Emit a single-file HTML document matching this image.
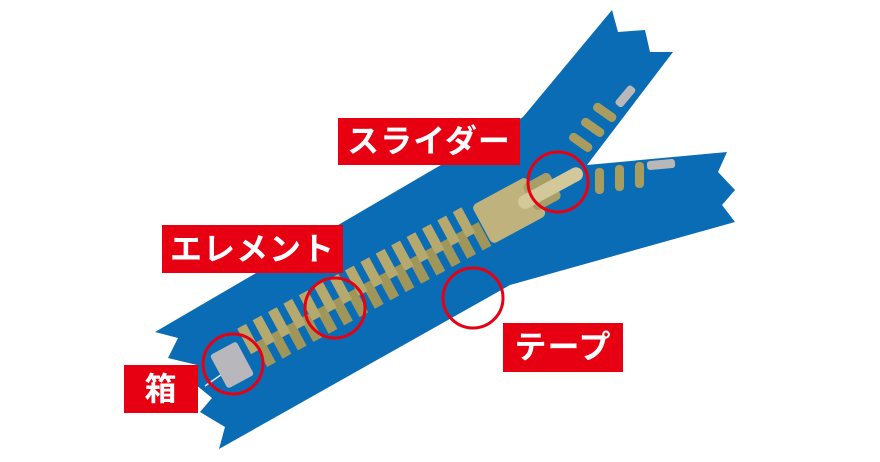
<!DOCTYPE html>
<html><head><meta charset="utf-8"><style>
html,body{margin:0;padding:0;background:#fff;width:880px;height:462px;overflow:hidden}
.l{position:absolute;background:#e60012;color:#fff;font-family:"Liberation Sans","Noto Sans CJK JP",sans-serif;font-weight:bold;text-align:center;letter-spacing:1px}
</style></head><body>
<svg width="880" height="462" style="position:absolute;left:0;top:0">
<polygon fill="#0a6cb5" points="155,332 523,117 612,10 618,32 645,30 650,52 673,52 587,165 727,152 718,172 735,190 722,205 735,222 510,285 219,449 225,427 200,412 212,398 190,380 197,365 168,358 178,338"/>
<g id="teeth"></g>
<script>
(function(){
var g=document.getElementById('teeth');var ns='http://www.w3.org/2000/svg';
var wrap=document.createElementNS(ns,'g');wrap.setAttribute('transform','translate(228,362) rotate(-28.4)');
for(var i=0;i<15;i++){
 var x=24+i*17.5;
 var d=document.createElementNS(ns,'rect');
 d.setAttribute('x',x+8);d.setAttribute('y',-4);d.setAttribute('width',10);d.setAttribute('height',27);d.setAttribute('fill','#a0965a');
 wrap.appendChild(d);
 var l=document.createElementNS(ns,'rect');
 l.setAttribute('x',x);l.setAttribute('y',-25);l.setAttribute('width',10);l.setAttribute('height',29);l.setAttribute('fill','#b5a96e');
 wrap.appendChild(l);
}
g.appendChild(wrap);
})();
</script>
<g fill="#a89d5e">
<rect x="568" y="138" width="26" height="9" rx="4" transform="rotate(35 581 142)"/>
<rect x="580" y="123" width="26" height="9" rx="4" transform="rotate(35 593 127)"/>
<rect x="592" y="108" width="26" height="9" rx="4" transform="rotate(35 605 112)"/>
<rect x="595" y="168" width="9" height="26" rx="4"/>
<rect x="615" y="165" width="9" height="26" rx="4"/>
<rect x="635" y="162" width="9" height="26" rx="4"/>
</g>
<rect x="613" y="92" width="24" height="9" rx="3" fill="#b8b8b8" transform="rotate(-50 625 96)"/>
<rect x="647" y="160" width="28" height="9" rx="3" fill="#b8b8b8" transform="rotate(-5 661 164)"/>
<g transform="translate(510,210) rotate(-28.4)">
 <rect x="-32" y="-22" width="62" height="44" rx="5" fill="#bfb27c"/>
 <rect x="22" y="-16" width="30" height="30" rx="5" fill="#a89e68"/>
 <rect x="10" y="-7" width="72" height="14" rx="7" fill="#d2c89a"/>
</g>
<line x1="205" y1="386" x2="225" y2="372" stroke="#e8e8e8" stroke-width="1.5"/>
<rect x="217" y="346" width="30" height="38" rx="3" fill="#b8b8bc" transform="rotate(-28.4 232 365)"/>
<g fill="none" stroke="#e60012" stroke-width="3">
<circle cx="233" cy="364" r="30"/>
<circle cx="335" cy="308" r="30"/>
<circle cx="473" cy="298" r="30"/>
<circle cx="558" cy="182" r="30"/>
</g>
</svg>
<div class="l" style="left:338px;top:118px;width:182px;height:47px;line-height:47px;font-size:32px">スライダー</div>
<div class="l" style="left:162px;top:225px;width:181px;height:48px;line-height:48px;font-size:32px">エレメント</div>
<div class="l" style="left:503px;top:323px;width:120px;height:49px;line-height:49px;font-size:32px">テープ</div>
<div class="l" style="left:124px;top:365px;width:74px;height:48px;line-height:48px;font-size:32px">箱</div>
</body></html>
